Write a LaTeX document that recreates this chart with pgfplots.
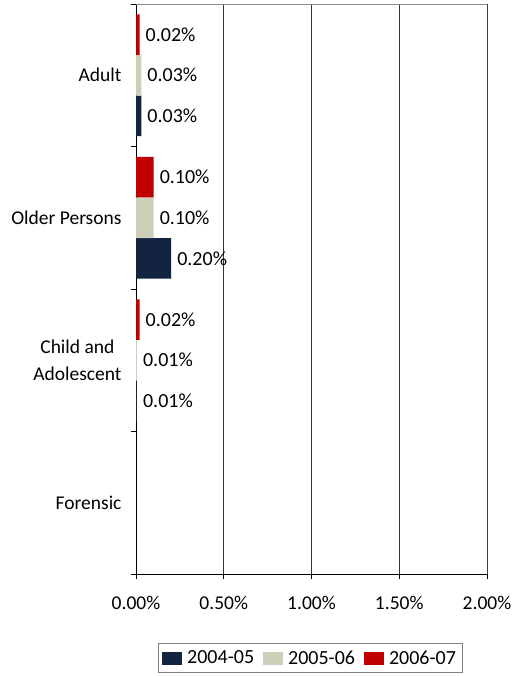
\documentclass[border=0pt]{standalone}
\usepackage{fontspec}
\setmainfont{Carlito}
\usepackage{pgfplots}
\pgfplotsset{compat=1.18}
\definecolor{cnavy}{RGB}{18,36,64}
\definecolor{cbeige}{RGB}{206,207,184}
\definecolor{cred}{RGB}{192,0,0}
\begin{document}
\begin{tikzpicture}[font=\fontsize{19.5bp}{27bp}\selectfont]
\path[use as bounding box] (0,0) rectangle (514bp,676bp);
\begin{axis}[
  at={(136bp,102bp)}, anchor=south west,
  scale only axis, width=351bp, height=570bp,
  xmin=0, xmax=2, ymin=-0.5, ymax=3.5,
  xbar, bar width=0.285,
  axis lines=left, axis line style={-, black, line width=0.8bp},
  tick align=outside, major tick length=5bp,
  tick style={black, line width=0.8bp},
  /pgf/number format/assume math mode=true,
  xtick={0,0.5,1,1.5,2},
  xticklabels={0.00\%,0.50\%,1.00\%,1.50\%,2.00\%},
  xticklabel style={yshift=-14bp},
  xmajorgrids, major grid style={black!80, line width=0.8bp},
  ytick={-0.5,0.5,1.5,2.5,3.5}, yticklabels={},
  extra y ticks={0,1,2,3},
  extra y tick labels={Forensic,{Child and\\Adolescent},Older Persons,Adult},
  extra y tick style={major tick length=0pt, ymajorgrids=false, tick label style={align=center, xshift=-11bp}},
  point meta=explicit,
  nodes near coords={\pgfmathprintnumber[fixed,fixed zerofill,precision=2,assume math mode=true]{\pgfplotspointmeta}\%},
  every node near coord/.append style={anchor=west, inner sep=3bp, xshift=3bp, black, font=\fontsize{20bp}{24bp}\selectfont},
  legend columns=3,
  legend style={at={(0.496,-0.1474)}, anchor=center, draw=black!50, line width=0.8bp,
    inner xsep=4bp, inner ysep=5bp, font=\fontsize{20bp}{24bp}\selectfont,
    /tikz/every odd column/.append style={column sep=3bp},
    /tikz/every even column/.append style={column sep=7bp}},
  legend image code/.code={\fill[#1,draw=none] (0bp,-6.5bp) rectangle (20bp,6.5bp);},
]
\addplot[fill=cnavy, draw=none, bar shift=-0.285] table[x=v, y=c, meta=m] {
c v m
3 0.03 0.03
2 0.20 0.20
1 0.005 0.01
};
\addplot[fill=cbeige, draw=none, bar shift=0] table[x=v, y=c, meta=m] {
c v m
3 0.03 0.03
2 0.10 0.10
1 0.005 0.01
};
\addplot[fill=cred, draw=none, bar shift=0.285] table[x=v, y=c, meta=m] {
c v m
3 0.02 0.02
2 0.10 0.10
1 0.02 0.02
};
\legend{2004-05,2005-06,2006-07}
\draw[black!45, line width=0.8bp] (rel axis cs:0,1) -- (rel axis cs:1,1) -- (rel axis cs:1,0);
\end{axis}
\end{tikzpicture}
\end{document}
